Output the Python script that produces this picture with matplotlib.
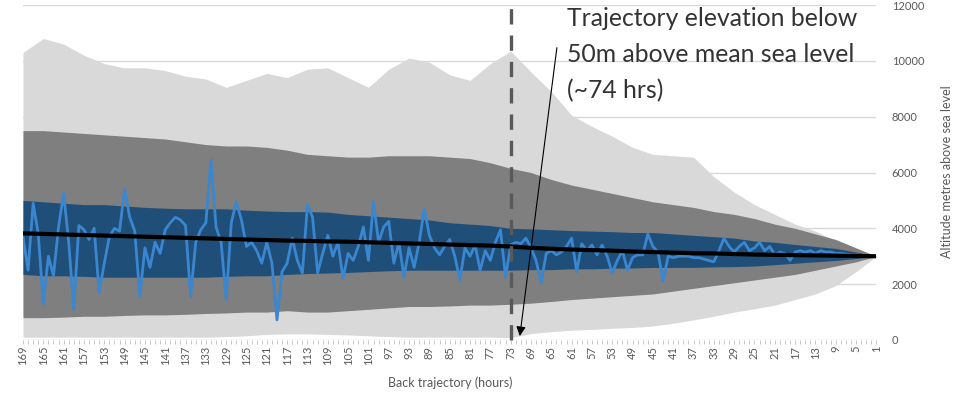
"""Back trajectory altitude envelope with the 50 m crossing marked."""

import matplotlib.pyplot as plt
import numpy as np

OUTPUT_PATH = "out.png"

# hours before arrival, left to right
HOURS = list(range(169, 0, -1))
# envelope series are sampled every 4 hours (the labelled ticks)
ENV_HOURS = list(range(169, 0, -4))

# altitude in metres above sea level
MAX_ALT = [
    10300, 10800, 10600, 10200, 9900, 9750, 9750, 9650, 9450, 9350,
    9050, 9300, 9550, 9400, 9700, 9750, 9400, 9050, 9700, 10100,
    9950, 9500, 9300, 9900, 10350, 9600, 8900, 8050, 7650, 7300,
    6900, 6650, 6600, 6550, 5850, 5300, 4850, 4500, 4150, 3900,
    3550, 3200, 3000,
]
MIN_ALT = [
    100, 100, 100, 100, 100, 100, 100, 100, 100, 100,
    120, 150, 200, 220, 220, 200, 180, 150, 120, 100,
    100, 100, 100, 100, 80, 230, 300, 350, 380, 420,
    450, 500, 600, 720, 850, 1000, 1120, 1250, 1450, 1650,
    1950, 2450, 3000,
]
UPPER_SPREAD = [
    7500, 7500, 7450, 7400, 7350, 7300, 7250, 7200, 7100, 7000,
    6950, 6950, 6900, 6800, 6650, 6600, 6550, 6550, 6600, 6600,
    6600, 6550, 6500, 6350, 6150, 6000, 5750, 5550, 5400, 5250,
    5100, 4950, 4850, 4750, 4600, 4500, 4350, 4150, 4000, 3800,
    3600, 3300, 3000,
]
LOWER_SPREAD = [
    800, 800, 820, 850, 850, 880, 900, 900, 920, 950,
    970, 1000, 1000, 1050, 1000, 1000, 1050, 1100, 1150, 1200,
    1200, 1220, 1250, 1250, 1280, 1320, 1380, 1450, 1500, 1550,
    1600, 1650, 1750, 1850, 1950, 2050, 2150, 2250, 2350, 2500,
    2650, 2800, 3000,
]
UPPER_SD = [
    5000, 4950, 4900, 4850, 4850, 4800, 4750, 4720, 4700, 4700,
    4700, 4650, 4620, 4600, 4600, 4580, 4500, 4450, 4400, 4350,
    4300, 4200, 4150, 4100, 4000, 3980, 3950, 3920, 3900, 3880,
    3850, 3850, 3800, 3750, 3700, 3650, 3550, 3500, 3420, 3350,
    3280, 3150, 3000,
]
LOWER_SD = [
    2350, 2300, 2300, 2280, 2250, 2250, 2250, 2250, 2250, 2250,
    2280, 2300, 2300, 2350, 2380, 2400, 2420, 2450, 2480, 2500,
    2500, 2500, 2500, 2500, 2500, 2520, 2520, 2550, 2550, 2570,
    2580, 2600, 2600, 2600, 2620, 2630, 2650, 2700, 2750, 2800,
    2850, 2920, 3000,
]
MEAN_ALT = [
    3820, 3800, 3780, 3760, 3740, 3720, 3700, 3680, 3660, 3640,
    3620, 3600, 3580, 3560, 3550, 3530, 3520, 3500, 3480, 3460,
    3440, 3420, 3400, 3380, 3350, 3300, 3270, 3240, 3220, 3200,
    3170, 3150, 3130, 3110, 3100, 3080, 3060, 3050, 3040, 3030,
    3020, 3010, 3000,
]

# single trajectory, one value per hour (169 -> 1)
TRAJ_ALT = [
    3700, 2500, 4900, 3800, 1300, 3000, 2300, 4050, 5250, 3500,
    1100, 4100, 3950, 3600, 4000, 1700, 2750, 3700, 4000, 3900,
    5400, 4400, 3900, 1550, 3300, 2600, 3500, 3100, 3950, 4200,
    4400, 4300, 4100, 1550, 3500, 3950, 4200, 6450, 4050, 3500,
    1450, 4200, 4950, 4300, 3350, 3500, 3200, 2750, 3500, 2750,
    720, 2450, 2750, 3650, 2850, 2400, 4850, 4400, 2400, 3100,
    3750, 3000, 3500, 2200, 3100, 2850, 3350, 4050, 2850, 4950,
    3500, 4050, 4250, 2750, 3500, 2250, 3300, 2600, 3500, 4700,
    3750, 3300, 3050, 3350, 3600, 3000, 2150, 3300, 3000, 3400,
    2500, 3200, 2850, 3500, 3950, 2250, 3400, 3500, 3450, 3650,
    3300, 2850, 2050, 3100, 3200, 3050, 3150, 3350, 3650, 2450,
    3450, 3200, 3400, 3050, 3400, 3000, 2400, 2850, 3200, 2500,
    2950, 3050, 3050, 3800, 3350, 3150, 2100, 3000, 2950, 3000,
    3000, 3000, 2950, 2950, 2900, 2850, 2800, 3200, 3650, 3350,
    3150, 3350, 3500, 3200, 3300, 3500, 3200, 3350, 3050, 3150,
    3100, 2850, 3150, 3200, 3150, 3200, 3100, 3200, 3150, 3150,
    3100, 3100, 3080, 3050, 3050, 3030, 3020, 3000, 3000,
]

Y_TICKS = [0, 2000, 4000, 6000, 8000, 10000, 12000]
CROSSING_HOUR = 73
NOTE = "Trajectory elevation below\n50m above mean sea level\n(~74 hrs)"

LIGHT_GREY = "#D9D9D9"
DARK_GREY = "#7F7F7F"
NAVY = "#1F4E79"
TRAJ_BLUE = "#3A86CF"
TEXT_GREY = "#595959"

FIG_W, FIG_H = 973, 412


def pos(hours):
    # categories run 169 -> 1 from left to right
    return 169 - np.asarray(hours, dtype=float)


def plot_trajectory():
    plt.rcParams["font.family"] = ["Lato", "DejaVu Sans"]

    fig = plt.figure(figsize=(FIG_W / 100, FIG_H / 100), dpi=100)
    ax = fig.add_axes([23 / FIG_W, 72 / FIG_H, 853.4 / FIG_W, 335 / FIG_H])

    env_x = pos(ENV_HOURS)
    ax.fill_between(env_x, MIN_ALT, MAX_ALT, color=LIGHT_GREY, lw=0, zorder=1)
    ax.fill_between(env_x, LOWER_SPREAD, UPPER_SPREAD, color=DARK_GREY, lw=0, zorder=2)
    ax.fill_between(env_x, LOWER_SD, UPPER_SD, color=NAVY, lw=0, zorder=3)
    ax.plot(pos(HOURS), TRAJ_ALT, color=TRAJ_BLUE, lw=2.0, zorder=4,
            solid_joinstyle="round")
    ax.plot(env_x, MEAN_ALT, color="black", lw=3.0, zorder=5,
            solid_capstyle="butt")

    # marker for the 50 m crossing, running off the top of the axes
    cx = pos([CROSSING_HOUR])[0]
    ax.plot([cx, cx], [0, 12180], color=TEXT_GREY, lw=2.4,
            linestyle=(0, (4.6, 3.3)), zorder=6, clip_on=False)

    ax.set_xlim(0, 168)
    ax.set_ylim(0, 12000)

    # tick at every hour, label every fourth
    ax.set_xticks(pos(HOURS))
    ax.set_xticklabels([str(h) if h in ENV_HOURS else "" for h in HOURS],
                       rotation=90, fontsize=8, color=TEXT_GREY)
    ax.tick_params(axis="x", length=3, width=0.6, color="#BFBFBF", pad=1.2)

    ax.yaxis.tick_right()
    ax.set_yticks(Y_TICKS)
    ax.set_yticklabels([str(v) for v in Y_TICKS], fontsize=8, color=TEXT_GREY)
    ax.tick_params(axis="y", length=0, pad=11)

    ax.grid(axis="y", color=LIGHT_GREY, lw=1.0, zorder=0)
    ax.set_axisbelow(True)
    for spine in ax.spines.values():
        spine.set_visible(False)

    ax.annotate(
        "",
        xy=(pos([71.2])[0], 140),
        xytext=(pos([63.9])[0], 10470),
        arrowprops=dict(arrowstyle="-|>", color="black", lw=0.8,
                        mutation_scale=14, shrinkA=0, shrinkB=0),
        zorder=7,
        annotation_clip=False,
    )
    fig.text(567 / FIG_W, 1 - 7 / FIG_H, NOTE, ha="left", va="top",
             fontsize=17.8, color="#333333", linespacing=1.68)

    fig.text(450 / FIG_W, 1 - 383 / FIG_H, "Back trajectory (hours)",
             ha="center", va="center", fontsize=9, color=TEXT_GREY)
    fig.text(947 / FIG_W, 1 - 172 / FIG_H, "Altitude metres above sea level",
             ha="center", va="center", rotation=90, fontsize=9,
             color=TEXT_GREY)

    fig.savefig(OUTPUT_PATH, dpi=100)
    plt.close(fig)


if __name__ == "__main__":
    assert len(TRAJ_ALT) == len(HOURS)
    plot_trajectory()
